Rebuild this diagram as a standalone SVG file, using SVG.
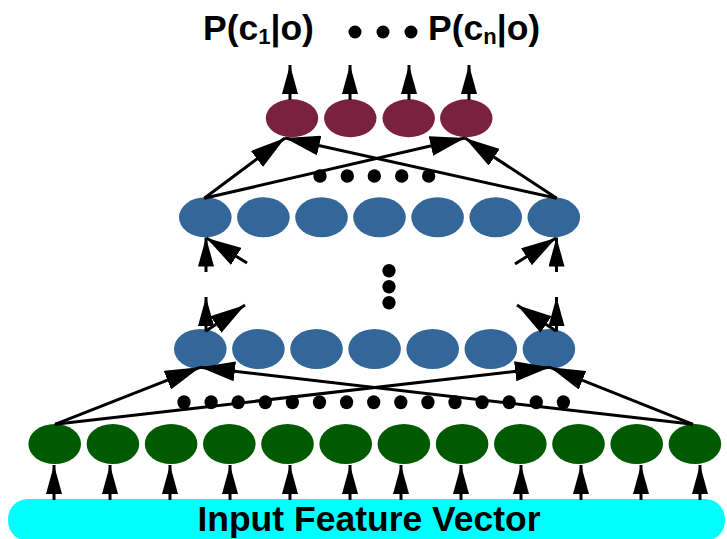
<svg xmlns="http://www.w3.org/2000/svg" width="727" height="539" viewBox="0 0 727 539">
<style>
.g{fill:#005a00}
.b{fill:#336699}
.p{fill:#7a2140}
.dot{fill:#000}
.c line{stroke:#000;stroke-width:3;fill:none}
.v{marker-end:url(#ah)}
.d{marker-end:url(#ahL)}
.t{font-family:"Liberation Sans",Arial,sans-serif;font-weight:bold;fill:#000}
</style>
<defs>
<marker id="ah" markerUnits="userSpaceOnUse" markerWidth="29" markerHeight="16" refX="29" refY="8" orient="auto"><path d="M0,0 L29,8 L0,16 z" fill="#000"/></marker>
<marker id="ahL" markerUnits="userSpaceOnUse" markerWidth="35" markerHeight="20" refX="35" refY="10" orient="auto"><path d="M0,0 L35,10 L0,20 z" fill="#000"/></marker>
</defs>
<rect width="727" height="539" fill="#fff"/>

<g id="input">
<rect x="8" y="499" width="717" height="42" rx="20" fill="#00ffff"/>
<text class="t" x="369" y="531" font-size="35.5" text-anchor="middle">Input Feature Vector</text>
</g>

<g id="labels">
<text id="label-c1" class="t" x="203" y="40" font-size="35.5">P(c<tspan font-size="22" dy="4">1</tspan><tspan dy="-4">|o)</tspan></text>
<text id="label-cn" class="t" x="428" y="40" font-size="35.5">P(c<tspan font-size="22" dy="4">n</tspan><tspan dy="-4">|o)</tspan></text>
<g id="label-dots" class="dot"><circle cx="355" cy="32" r="6.5"/><circle cx="383" cy="32" r="6.5"/><circle cx="411" cy="32" r="6.5"/></g>
</g>

<g id="output-layer">
<ellipse id="o1" class="p" cx="292" cy="118.3" rx="26.2" ry="19"/>
<ellipse id="o2" class="p" cx="350.3" cy="118.3" rx="26.2" ry="19"/>
<ellipse id="o3" class="p" cx="408.7" cy="118.3" rx="26.2" ry="19"/>
<ellipse id="o4" class="p" cx="466.3" cy="118.3" rx="26.2" ry="19"/>
</g>

<g id="hidden-top">
<ellipse id="h1" class="b" cx="205.3" cy="217.3" rx="26.3" ry="20"/>
<ellipse id="h2" class="b" cx="263.4" cy="217.3" rx="26.3" ry="20"/>
<ellipse id="h3" class="b" cx="321.5" cy="217.3" rx="26.3" ry="20"/>
<ellipse id="h4" class="b" cx="379.5" cy="217.3" rx="26.3" ry="20"/>
<ellipse id="h5" class="b" cx="437.6" cy="217.3" rx="26.3" ry="20"/>
<ellipse id="h6" class="b" cx="495.7" cy="217.3" rx="26.3" ry="20"/>
<ellipse id="h7" class="b" cx="553.8" cy="217.3" rx="26.3" ry="20"/>
</g>

<g id="hidden-bottom">
<ellipse id="k1" class="b" cx="200.3" cy="349" rx="26.3" ry="20"/>
<ellipse id="k2" class="b" cx="258.4" cy="349" rx="26.3" ry="20"/>
<ellipse id="k3" class="b" cx="316.5" cy="349" rx="26.3" ry="20"/>
<ellipse id="k4" class="b" cx="374.6" cy="349" rx="26.3" ry="20"/>
<ellipse id="k5" class="b" cx="432.7" cy="349" rx="26.3" ry="20"/>
<ellipse id="k6" class="b" cx="490.8" cy="349" rx="26.3" ry="20"/>
<ellipse id="k7" class="b" cx="548.9" cy="349" rx="26.3" ry="20"/>
</g>

<g id="input-layer">
<ellipse id="i1" class="g" cx="54.7" cy="444" rx="26.3" ry="20"/>
<ellipse id="i2" class="g" cx="112.9" cy="444" rx="26.3" ry="20"/>
<ellipse id="i3" class="g" cx="171.1" cy="444" rx="26.3" ry="20"/>
<ellipse id="i4" class="g" cx="229.3" cy="444" rx="26.3" ry="20"/>
<ellipse id="i5" class="g" cx="287.5" cy="444" rx="26.3" ry="20"/>
<ellipse id="i6" class="g" cx="345.7" cy="444" rx="26.3" ry="20"/>
<ellipse id="i7" class="g" cx="403.9" cy="444" rx="26.3" ry="20"/>
<ellipse id="i8" class="g" cx="462.1" cy="444" rx="26.3" ry="20"/>
<ellipse id="i9" class="g" cx="520.3" cy="444" rx="26.3" ry="20"/>
<ellipse id="i10" class="g" cx="578.5" cy="444" rx="26.3" ry="20"/>
<ellipse id="i11" class="g" cx="636.7" cy="444" rx="26.3" ry="20"/>
<ellipse id="i12" class="g" cx="694.9" cy="444" rx="26.3" ry="20"/>
</g>

<g id="ellipsis-dots" class="dot">
<circle cx="320" cy="176" r="6.7"/><circle cx="347.3" cy="176" r="6.7"/><circle cx="374.3" cy="176" r="6.7"/><circle cx="401.7" cy="176" r="6.7"/><circle cx="428.7" cy="176" r="6.7"/>
<circle cx="389" cy="270.7" r="6.7"/><circle cx="389" cy="286.7" r="6.7"/><circle cx="389" cy="302.7" r="6.7"/>
<ellipse cx="184" cy="402.3" rx="6.6" ry="7"/><ellipse cx="211.1" cy="402.3" rx="6.6" ry="7"/><ellipse cx="238.2" cy="402.3" rx="6.6" ry="7"/><ellipse cx="265.3" cy="402.3" rx="6.6" ry="7"/><ellipse cx="292.4" cy="402.3" rx="6.6" ry="7"/><ellipse cx="319.5" cy="402.3" rx="6.6" ry="7"/><ellipse cx="346.6" cy="402.3" rx="6.6" ry="7"/><ellipse cx="373.7" cy="402.3" rx="6.6" ry="7"/><ellipse cx="400.8" cy="402.3" rx="6.6" ry="7"/><ellipse cx="427.9" cy="402.3" rx="6.6" ry="7"/><ellipse cx="455" cy="402.3" rx="6.6" ry="7"/><ellipse cx="482.1" cy="402.3" rx="6.6" ry="7"/><ellipse cx="509.2" cy="402.3" rx="6.6" ry="7"/><ellipse cx="536.3" cy="402.3" rx="6.6" ry="7"/><ellipse cx="563.4" cy="402.3" rx="6.6" ry="7"/>
</g>

<g id="connectors" class="c">
<!-- output arrows -->
<line class="v" x1="290" y1="100" x2="290" y2="65"/>
<line class="v" x1="350" y1="100" x2="350" y2="65"/>
<line class="v" x1="409" y1="100" x2="409" y2="65"/>
<line class="v" x1="469" y1="100" x2="469" y2="65"/>
<!-- top hidden to output -->
<line class="d" x1="204.3" y1="198.3" x2="285" y2="138"/>
<line class="d" x1="204.3" y1="198.3" x2="465" y2="138"/>
<line class="d" x1="556.7" y1="198.3" x2="285" y2="138"/>
<line class="d" x1="556.7" y1="198.3" x2="465" y2="138"/>
<!-- into top hidden -->
<line class="v" x1="206" y1="272" x2="206" y2="237.5"/>
<line class="d" x1="247" y1="263" x2="206.5" y2="238"/>
<line class="v" x1="556.5" y1="272" x2="556.5" y2="237.5"/>
<line class="d" x1="515" y1="264" x2="556" y2="238"/>
<!-- out of bottom hidden -->
<line class="v" x1="206" y1="331.5" x2="206" y2="297"/>
<line class="d" x1="206" y1="331" x2="245" y2="305"/>
<line class="v" x1="556.5" y1="331.5" x2="556.5" y2="297"/>
<line class="d" x1="556" y1="331" x2="517" y2="305"/>
<!-- input layer to bottom hidden -->
<line class="d" x1="55" y1="424.3" x2="200" y2="367.3"/>
<line class="d" x1="55" y1="424.3" x2="550" y2="367.3"/>
<line class="d" x1="693" y1="424.3" x2="200" y2="367.3"/>
<line class="d" x1="693" y1="424.3" x2="550" y2="367.3"/>
<!-- feature vector to input layer -->
<line class="v" x1="54" y1="500" x2="54" y2="465"/>
<line class="v" x1="110" y1="500" x2="110" y2="465"/>
<line class="v" x1="170" y1="500" x2="170" y2="465"/>
<line class="v" x1="230" y1="500" x2="230" y2="465"/>
<line class="v" x1="290" y1="500" x2="290" y2="465"/>
<line class="v" x1="350" y1="500" x2="350" y2="465"/>
<line class="v" x1="401" y1="500" x2="401" y2="465"/>
<line class="v" x1="461" y1="500" x2="461" y2="465"/>
<line class="v" x1="521" y1="500" x2="521" y2="465"/>
<line class="v" x1="581" y1="500" x2="581" y2="465"/>
<line class="v" x1="641" y1="500" x2="641" y2="465"/>
<line class="v" x1="700" y1="500" x2="700" y2="465"/>
</g>
</svg>
